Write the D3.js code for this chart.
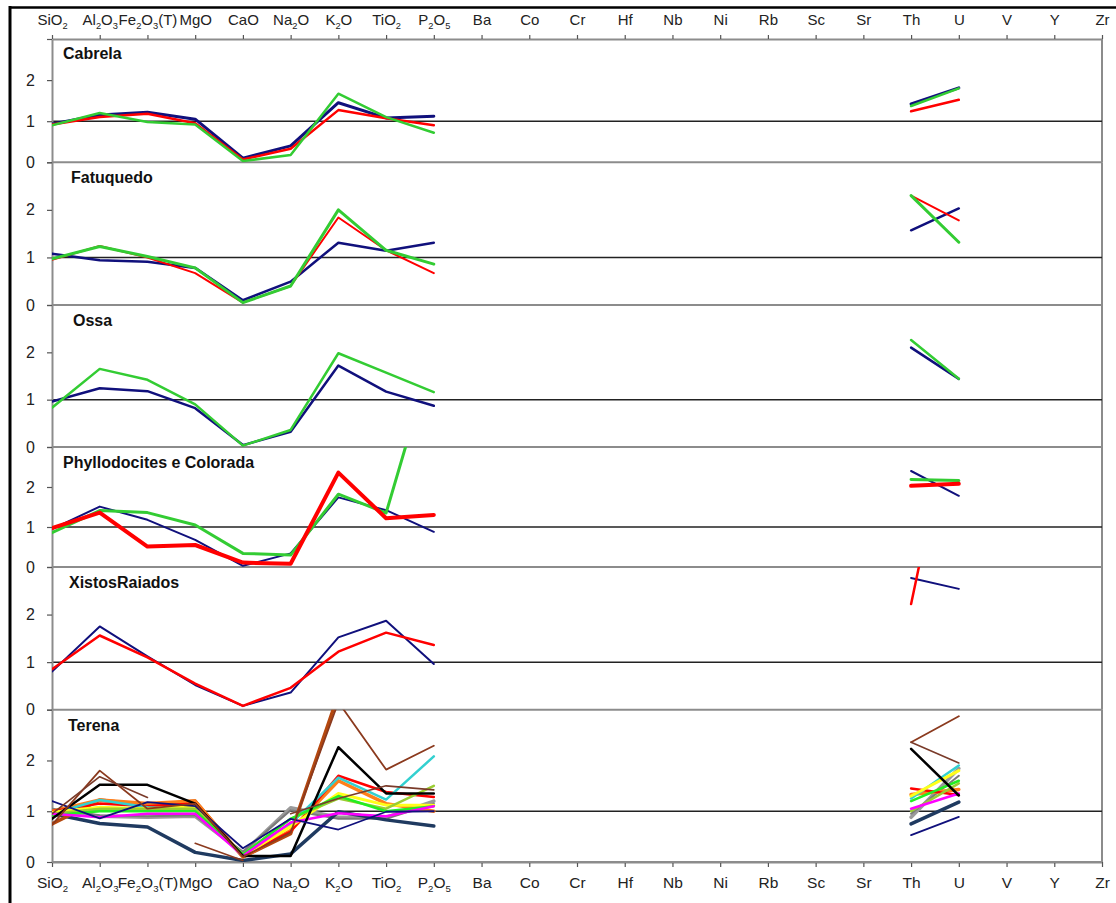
<!DOCTYPE html>
<html>
<head>
<meta charset="utf-8">
<script src="https://cdn.jsdelivr.net/npm/d3@7/dist/d3.min.js"></script>
<style>
  html, body { margin: 0; padding: 0; background: #fff; }
  svg { display: block; font-family: "Liberation Sans", Arial, sans-serif; }
</style>
</head>
<body>
<svg id="chart" width="1116" height="903"></svg>
<script>
// ---------------- DATA ----------------
const categories = ["SiO2","Al2O3","Fe2O3(T)","MgO","CaO","Na2O","K2O","TiO2","P2O5",
  "Ba","Co","Cr","Hf","Nb","Ni","Rb","Sc","Sr","Th","U","V","Y","Zr"];
const oxides = categories.slice(0, 9);
const yTicks = [0, 1, 2, 3];
const yTickLabels = ["0", "1", "2", ""];
const panelNames = ["Cabrela", "Fatuquedo", "Ossa", "Phyllodocites e Colorada", "XistosRaiados", "Terena"];

// major oxides (SiO2..P2O5) and [Th, U] values for each series
const cabrelaOx = {
  navy:  [0.93,1.15,1.22,1.05,0.10,0.40,1.45,1.08,1.12],
  red:   [0.92,1.10,1.18,0.95,0.07,0.33,1.27,1.07,0.90],
  green: [0.90,1.20,0.98,0.92,0.03,0.18,1.67,1.10,0.72]
};
const cabrelaThU = { navy: [1.42,1.81], red: [1.24,1.52], green: [1.37,1.80] };

const fatuquedoOx = {
  navy:  [1.08,0.94,0.91,0.78,0.10,0.49,1.31,1.14,1.31],
  red:   [0.95,1.24,1.00,0.67,0.05,0.40,1.84,1.15,0.67],
  green: [0.97,1.23,1.02,0.78,0.05,0.40,2.00,1.15,0.86]
};
const fatuquedoThU = { navy: [1.57,2.03], red: [2.30,1.78], green: [2.30,1.32] };

const ossaOx = {
  navy:  [0.96,1.24,1.18,0.82,0.04,0.32,1.72,1.17,0.87],
  green: [0.83,1.65,1.42,0.90,0.03,0.36,1.98,1.57,1.16]
};
const ossaThU = { navy: [2.10,1.44], green: [2.26,1.44] };

const phylloOx = {
  navy:  [0.95,1.51,1.18,0.68,0.03,0.34,1.74,1.42,0.88],
  green: [0.86,1.41,1.36,1.05,0.34,0.30,1.82,1.35,5.40],
  red:   [0.97,1.36,0.51,0.55,0.11,0.08,2.36,1.22,1.30]
};
const phylloThU = { navy: [2.40,1.78], green: [2.19,2.16], red: [2.03,2.08] };

const xistosOx = {
  navy: [0.80,1.75,1.12,0.52,0.08,0.36,1.52,1.87,0.96],
  red:  [0.85,1.56,1.10,0.55,0.08,0.46,1.22,1.62,1.36]
};
const xistosThU = { navy: [2.77,2.54], red: [2.22,7.00] };

const terenaOx = {
  gray:        [1.00,0.90,0.88,0.90,0.18,1.07,0.88,0.88,1.20],
  darkgray:    [1.05,0.92,0.90,0.92,0.20,1.02,0.85,0.85,1.15],
  slate:       [0.95,0.76,0.69,0.19,0.03,0.16,0.99,0.83,0.71],
  brownB:      [0.75,1.22,1.12,1.20,0.10,0.56,3.30,null,null],
  orange:      [1.00,1.22,1.15,1.20,0.10,0.62,1.60,1.15,1.00],
  red:         [1.00,1.15,1.10,1.15,0.12,0.60,1.70,1.38,1.28],
  cyan:        [0.95,1.22,1.08,1.02,0.15,0.75,1.66,1.23,2.08],
  yellow:      [0.98,1.08,1.05,1.10,0.12,0.70,1.35,1.12,1.12],
  yellowgreen: [0.95,1.05,1.05,1.05,0.15,0.85,1.25,1.05,1.50],
  lime:        [0.92,1.00,1.00,1.00,0.15,0.85,1.30,1.00,1.10],
  magenta:     [0.95,0.88,0.95,0.95,0.12,0.78,0.96,0.90,1.10],
  black:       [0.85,1.52,1.52,1.15,0.12,0.12,2.26,1.35,1.35],
  navy:        [1.20,0.86,1.18,1.10,0.27,0.85,0.64,0.99,1.00],
  brownA:      [0.73,1.80,1.05,1.15,0.10,0.58,3.15,1.82,2.29],
  brownC:      [0.95,1.68,1.27,null,null,0.95,1.25,1.50,1.42],
  brownD:      [null,null,null,0.37,0.03,null,null,null,null]
};
const terenaThU = {
  gray: [0.88,1.84], darkgray: [0.95,1.70], slate: [0.75,1.18], brownB: [null,null],
  orange: [1.33,1.43], red: [1.45,1.32], cyan: [1.25,1.90], yellow: [1.30,1.80],
  yellowgreen: [1.00,1.55], lime: [1.20,1.60], magenta: [1.05,1.35], black: [2.23,1.31],
  navy: [0.53,0.89], brownA: [2.36,2.87], brownC: [2.36,1.95], brownD: [null,null]
};

const panelOx  = [cabrelaOx, fatuquedoOx, ossaOx, phylloOx, xistosOx, terenaOx];
const panelThU = [cabrelaThU, fatuquedoThU, ossaThU, phylloThU, xistosThU, terenaThU];

// ---------------- STYLES / LAYOUT ----------------
const colors = {
  navy: "#10107c", red: "#ff0000", green: "#33cc33",
  gray: "#9a9a9a", darkgray: "#7a7a7a", slate: "#1f3a60", brownB: "#b4480f",
  orange: "#ff7f1a", cyan: "#33d0d0", yellow: "#ffff1a", yellowgreen: "#9acd32",
  lime: "#22ee22", magenta: "#ff00ff", black: "#000000", brownA: "#8b3a1e",
  brownC: "#7a3b2a", brownD: "#8b3a1e"
};
const widths = [
  { navy: 3, red: 2.5, green: 2.5 },
  { navy: 2.5, red: 2, green: 3 },
  { navy: 2.5, green: 2.5 },
  { navy: 2, green: 3, red: 4 },
  { navy: 2, red: 2.5 },
  { gray: 3.5, darkgray: 2, slate: 3.5, brownB: 3.5, orange: 3.5, red: 2.5, cyan: 2.5,
    yellow: 3, yellowgreen: 2.5, lime: 2.5, magenta: 2.5, black: 2.5, navy: 1.8,
    brownA: 1.8, brownC: 1.6, brownD: 1.6 }
];
const panelTop    = [39, 162.3, 305, 447, 567, 709.7];
const panelBottom = [162.3, 305, 447, 567, 709.7, 862];
const titleX = [63, 71, 73, 63, 69, 68];
const left = 52, right = 1102;
const frameGray = "#8c8c8c";

// ---------------- DRAW ----------------
const svg = d3.select("#chart");
const x = d3.scalePoint(categories, [left, right]);

// outer black frame (top and left)
svg.append("line").attr("x1", 10).attr("x2", 1116).attr("y1", 7.5).attr("y2", 7.5)
  .attr("stroke", "#000").attr("stroke-width", 2.5);
svg.append("line").attr("x1", 10).attr("x2", 10).attr("y1", 6).attr("y2", 903)
  .attr("stroke", "#000").attr("stroke-width", 3);

function labelWithSubs(textSel, size) {
  textSel.each(function(d) {
    const t = d3.select(this);
    t.text(null);
    const parts = d.match(/\d+|\D+/g);
    const inParen = d.indexOf("(");
    let pos = 0;
    parts.forEach(p => {
      const isDigit = /^\d+$/.test(p);
      const ts = t.append("tspan").text(p);
      if (isDigit) {
        ts.attr("font-size", size * 0.62).attr("dy", size * 0.25);
      } else if (pos > 0 && /^\d+$/.test(parts[parts.indexOf(p) - 1] || "")) {
        ts.attr("dy", -size * 0.25);
      }
      pos += p.length;
    });
  });
}

// fix: re-implement dy handling sequentially
function subLabels(textSel, size) {
  textSel.each(function(d) {
    const t = d3.select(this);
    t.text(null);
    const parts = d.match(/\d+|\D+/g);
    let shifted = false;
    parts.forEach(p => {
      const isDigit = /^\d+$/.test(p);
      const ts = t.append("tspan").text(p);
      if (isDigit) {
        ts.attr("font-size", size * 0.62).attr("dy", shifted ? 0 : size * 0.25);
        shifted = true;
      } else {
        if (shifted) ts.attr("dy", -size * 0.25);
        shifted = false;
      }
    });
  });
}

// top axis
const topAxis = svg.append("g").attr("transform", `translate(0,${panelTop[0]})`)
  .call(d3.axisTop(x).tickSize(4).tickSizeOuter(0).tickPadding(10));
topAxis.select(".domain").attr("stroke", frameGray).attr("stroke-width", 2);
topAxis.selectAll(".tick line").attr("stroke", "#555").attr("stroke-width", 1.2);
topAxis.selectAll(".tick text").attr("font-size", 15).attr("fill", "#222")
  .attr("font-family", '"Liberation Sans", Arial, sans-serif').call(subLabels, 15);

// bottom axis
const botAxis = svg.append("g").attr("transform", `translate(0,${panelBottom[5]})`)
  .call(d3.axisBottom(x).tickSize(5).tickSizeOuter(0).tickPadding(10));
botAxis.select(".domain").attr("stroke", frameGray).attr("stroke-width", 2);
botAxis.selectAll(".tick line").attr("stroke", "#555").attr("stroke-width", 1.2);
botAxis.selectAll(".tick text").attr("font-size", 15.5).attr("fill", "#222")
  .attr("font-family", '"Liberation Sans", Arial, sans-serif').call(subLabels, 15.5);

const defs = svg.append("defs");

panelNames.forEach((name, i) => {
  const y = d3.scaleLinear().domain([0, 3]).range([panelBottom[i], panelTop[i]]);
  const g = svg.append("g");

  // panel separator / bottom line and right border
  g.append("line").attr("x1", left).attr("x2", right)
    .attr("y1", y(0)).attr("y2", y(0))
    .attr("stroke", frameGray).attr("stroke-width", 2);
  g.append("line").attr("x1", right).attr("x2", right)
    .attr("y1", y(3)).attr("y2", y(0))
    .attr("stroke", frameGray).attr("stroke-width", 2);

  // reference line at 1
  g.append("line").attr("x1", left).attr("x2", right)
    .attr("y1", y(1)).attr("y2", y(1))
    .attr("stroke", "#222").attr("stroke-width", 1.5);

  // left axis
  const ax = g.append("g").attr("transform", `translate(${left},0)`)
    .call(d3.axisLeft(y).tickValues(yTicks).tickSize(5).tickSizeOuter(0).tickPadding(12)
      .tickFormat((d, k) => yTickLabels[k]));
  ax.select(".domain").attr("stroke", frameGray).attr("stroke-width", 2);
  ax.selectAll(".tick line").attr("stroke", "#555").attr("stroke-width", 1.2);
  ax.selectAll(".tick text").attr("font-size", 16).attr("fill", "#222")
    .attr("font-family", '"Liberation Sans", Arial, sans-serif');

  // title
  g.append("text").attr("x", titleX[i]).attr("y", panelTop[i] + (i === 0 ? 19.5 : 21))
    .attr("font-size", 16).attr("font-weight", "bold").attr("fill", "#111").text(name);

  // clip
  const clipId = "clip" + i;
  defs.append("clipPath").attr("id", clipId).append("rect")
    .attr("x", left).attr("y", y(3)).attr("width", right - left).attr("height", y(0) - y(3));

  const line = d3.line()
    .defined(d => d.v != null)
    .x(d => x(d.c))
    .y(d => y(d.v));

  const ox = panelOx[i], thu = panelThU[i];
  const lg = g.append("g").attr("clip-path", `url(#${clipId})`);
  Object.keys(ox).forEach(key => {
    const vals = categories.map(c => {
      const oi = oxides.indexOf(c);
      if (oi >= 0) return { c, v: ox[key][oi] };
      if (c === "Th") return { c, v: thu[key][0] };
      if (c === "U") return { c, v: thu[key][1] };
      return { c, v: null };
    });
    lg.append("path").datum(vals)
      .attr("d", line)
      .attr("fill", "none")
      .attr("stroke", colors[key])
      .attr("stroke-width", widths[i][key])
      .attr("stroke-linejoin", "round")
      .attr("stroke-linecap", "round");
  });
});
</script>
</body>
</html>
